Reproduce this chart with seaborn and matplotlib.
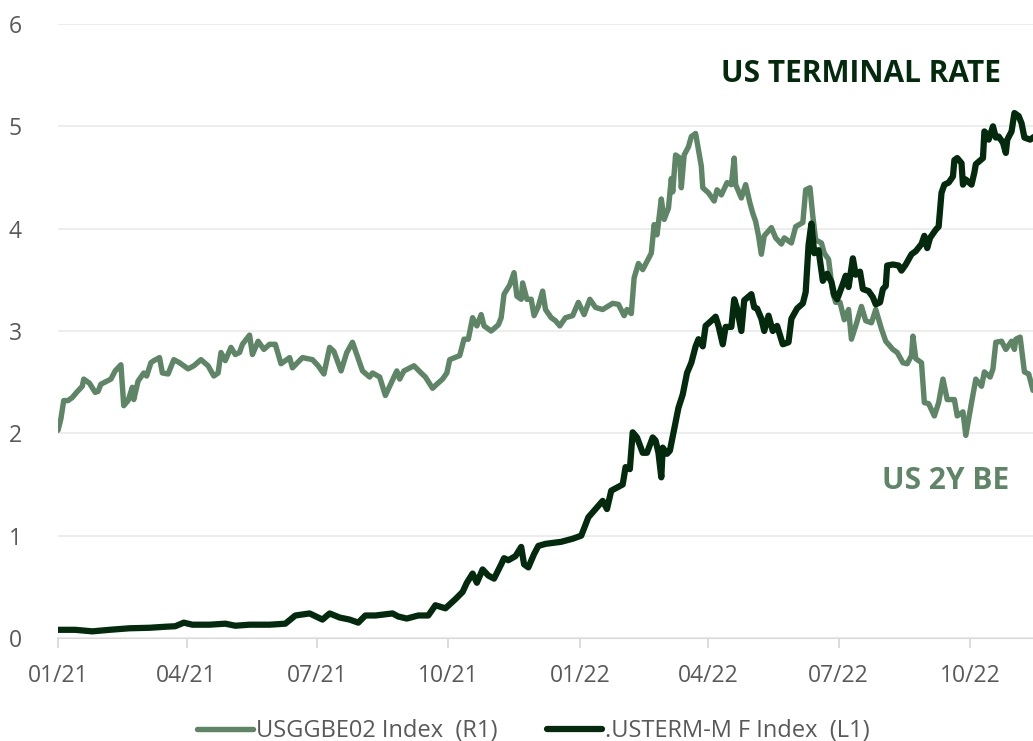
import matplotlib
matplotlib.use("Agg")
import matplotlib.pyplot as plt
import matplotlib.dates as mdates
import seaborn as sns
import pandas as pd

# ---------------- data ----------------
be_dates = [
    "2021-01-01", "2021-01-03", "2021-01-05", "2021-01-08", "2021-01-11", "2021-01-14", "2021-01-18",
    "2021-01-19", "2021-01-23", "2021-01-27", "2021-01-29", "2021-01-31", "2021-02-07", "2021-02-10",
    "2021-02-14", "2021-02-16", "2021-02-19", "2021-02-22", "2021-02-23", "2021-02-26", "2021-03-02",
    "2021-03-04", "2021-03-07", "2021-03-09", "2021-03-13", "2021-03-15", "2021-03-19", "2021-03-23",
    "2021-03-27", "2021-04-02", "2021-04-06", "2021-04-11", "2021-04-16", "2021-04-20", "2021-04-23",
    "2021-04-25", "2021-04-28", "2021-05-02", "2021-05-05", "2021-05-08", "2021-05-10", "2021-05-15",
    "2021-05-17", "2021-05-21", "2021-05-25", "2021-05-29", "2021-06-02", "2021-06-06", "2021-06-12",
    "2021-06-14", "2021-06-21", "2021-06-28", "2021-07-02", "2021-07-06", "2021-07-10", "2021-07-13",
    "2021-07-18", "2021-07-22", "2021-07-26", "2021-08-02", "2021-08-07", "2021-08-09", "2021-08-14",
    "2021-08-18", "2021-08-20", "2021-08-26", "2021-08-28", "2021-08-31", "2021-09-07", "2021-09-12",
    "2021-09-15", "2021-09-20", "2021-09-23", "2021-09-27", "2021-09-30", "2021-10-02", "2021-10-09",
    "2021-10-12", "2021-10-15", "2021-10-18", "2021-10-21", "2021-10-24", "2021-10-26", "2021-10-31",
    "2021-11-05", "2021-11-07", "2021-11-09", "2021-11-13", "2021-11-16", "2021-11-18", "2021-11-21",
    "2021-11-22", "2021-11-25", "2021-11-28", "2021-11-30", "2021-12-03", "2021-12-06", "2021-12-08",
    "2021-12-12", "2021-12-15", "2021-12-18", "2021-12-22", "2021-12-27", "2021-12-31", "2022-01-04",
    "2022-01-08", "2022-01-12", "2022-01-17", "2022-01-24", "2022-01-28", "2022-02-01", "2022-02-03",
    "2022-02-06", "2022-02-08", "2022-02-11", "2022-02-14", "2022-02-20", "2022-02-22", "2022-02-24",
    "2022-02-27", "2022-03-01", "2022-03-04", "2022-03-06", "2022-03-07", "2022-03-09", "2022-03-12",
    "2022-03-13", "2022-03-15", "2022-03-18", "2022-03-20", "2022-03-23", "2022-03-27", "2022-03-28",
    "2022-04-01", "2022-04-05", "2022-04-07", "2022-04-10", "2022-04-14", "2022-04-17", "2022-04-19",
    "2022-04-20", "2022-04-24", "2022-04-27", "2022-04-30", "2022-05-02", "2022-05-04", "2022-05-06",
    "2022-05-08", "2022-05-10", "2022-05-15", "2022-05-18", "2022-05-22", "2022-05-24", "2022-05-29",
    "2022-06-01", "2022-06-06", "2022-06-08", "2022-06-11", "2022-06-13", "2022-06-15", "2022-06-19",
    "2022-06-21", "2022-06-24", "2022-06-27", "2022-06-29", "2022-07-02", "2022-07-05", "2022-07-08",
    "2022-07-10", "2022-07-13", "2022-07-17", "2022-07-20", "2022-07-24", "2022-07-27", "2022-07-31",
    "2022-08-03", "2022-08-08", "2022-08-11", "2022-08-15", "2022-08-18", "2022-08-21", "2022-08-22",
    "2022-08-24", "2022-08-28", "2022-08-30", "2022-09-02", "2022-09-06", "2022-09-09", "2022-09-12",
    "2022-09-15", "2022-09-20", "2022-09-22", "2022-09-26", "2022-09-28", "2022-10-02", "2022-10-05",
    "2022-10-09", "2022-10-11", "2022-10-15", "2022-10-17", "2022-10-19", "2022-10-23", "2022-10-26",
    "2022-10-30", "2022-11-01", "2022-11-02", "2022-11-05", "2022-11-08", "2022-11-11", "2022-11-14",
]
be_values = [
    2.03, 2.14, 2.32, 2.32, 2.35, 2.40, 2.46,
    2.53, 2.49, 2.40, 2.41, 2.48, 2.53, 2.61,
    2.67, 2.27, 2.32, 2.45, 2.33, 2.51, 2.59,
    2.56, 2.69, 2.71, 2.74, 2.59, 2.58, 2.72,
    2.69, 2.63, 2.66, 2.72, 2.66, 2.56, 2.59,
    2.79, 2.71, 2.84, 2.77, 2.79, 2.87, 2.96,
    2.77, 2.90, 2.82, 2.87, 2.87, 2.68, 2.74,
    2.64, 2.74, 2.72, 2.66, 2.58, 2.84, 2.80,
    2.61, 2.79, 2.89, 2.61, 2.55, 2.59, 2.55,
    2.37, 2.43, 2.61, 2.53, 2.61, 2.66, 2.59,
    2.55, 2.44, 2.48, 2.53, 2.59, 2.72, 2.76,
    2.92, 2.92, 3.13, 3.05, 3.16, 3.05, 3.00,
    3.06, 3.13, 3.36, 3.45, 3.57, 3.34, 3.31,
    3.47, 3.31, 3.31, 3.15, 3.24, 3.39, 3.21,
    3.13, 3.10, 3.05, 3.13, 3.15, 3.28, 3.16,
    3.31, 3.23, 3.21, 3.27, 3.26, 3.15, 3.21,
    3.17, 3.52, 3.66, 3.60, 3.76, 4.04, 3.94,
    4.29, 4.09, 4.20, 4.49, 4.36, 4.72, 4.69,
    4.40, 4.72, 4.80, 4.90, 4.93, 4.61, 4.40,
    4.35, 4.27, 4.38, 4.33, 4.45, 4.43, 4.69,
    4.43, 4.30, 4.43, 4.25, 4.15, 4.07, 3.93,
    3.75, 3.93, 4.01, 3.91, 3.85, 3.91, 3.86,
    4.02, 4.06, 4.38, 4.40, 4.12, 3.89, 3.86,
    3.76, 3.70, 3.37, 3.28, 3.28, 3.11, 3.21,
    2.92, 3.05, 3.24, 3.10, 3.08, 3.21, 3.02,
    2.90, 2.82, 2.79, 2.69, 2.68, 2.76, 2.95,
    2.73, 2.69, 2.30, 2.29, 2.17, 2.30, 2.53,
    2.33, 2.33, 2.17, 2.21, 1.98, 2.30, 2.53,
    2.46, 2.60, 2.55, 2.63, 2.89, 2.90, 2.82,
    2.90, 2.82, 2.92, 2.94, 2.60, 2.58, 2.42,
]

term_dates = [
    "2021-01-01", "2021-01-13", "2021-01-25", "2021-02-06", "2021-02-20", "2021-03-06", "2021-03-17",
    "2021-03-24", "2021-03-30", "2021-04-05", "2021-04-17", "2021-04-28", "2021-05-05", "2021-05-15",
    "2021-05-29", "2021-06-09", "2021-06-16", "2021-06-26", "2021-07-05", "2021-07-10", "2021-07-17",
    "2021-07-24", "2021-07-30", "2021-08-04", "2021-08-11", "2021-08-23", "2021-08-27", "2021-09-02",
    "2021-09-10", "2021-09-17", "2021-09-22", "2021-09-29", "2021-10-06", "2021-10-11", "2021-10-14",
    "2021-10-18", "2021-10-21", "2021-10-25", "2021-10-29", "2021-11-02", "2021-11-07", "2021-11-09",
    "2021-11-12", "2021-11-17", "2021-11-21", "2021-11-23", "2021-11-26", "2021-11-30", "2021-12-03",
    "2021-12-08", "2021-12-19", "2021-12-27", "2022-01-02", "2022-01-07", "2022-01-12", "2022-01-17",
    "2022-01-20", "2022-01-23", "2022-01-27", "2022-01-31", "2022-02-02", "2022-02-05", "2022-02-07",
    "2022-02-10", "2022-02-14", "2022-02-17", "2022-02-21", "2022-02-23", "2022-02-25", "2022-02-27",
    "2022-02-28", "2022-03-03", "2022-03-05", "2022-03-08", "2022-03-11", "2022-03-14", "2022-03-17",
    "2022-03-20", "2022-03-23", "2022-03-25", "2022-03-28", "2022-03-30", "2022-04-03", "2022-04-06",
    "2022-04-08", "2022-04-11", "2022-04-13", "2022-04-17", "2022-04-19", "2022-04-21", "2022-04-24",
    "2022-04-26", "2022-05-01", "2022-05-03", "2022-05-05", "2022-05-08", "2022-05-10", "2022-05-13",
    "2022-05-16", "2022-05-19", "2022-05-23", "2022-05-27", "2022-05-29", "2022-06-02", "2022-06-06",
    "2022-06-08", "2022-06-10", "2022-06-12", "2022-06-14", "2022-06-17", "2022-06-20", "2022-06-23",
    "2022-06-26", "2022-06-28", "2022-06-30", "2022-07-04", "2022-07-06", "2022-07-08", "2022-07-11",
    "2022-07-13", "2022-07-16", "2022-07-18", "2022-07-22", "2022-07-25", "2022-07-27", "2022-07-30",
    "2022-08-01", "2022-08-03", "2022-08-04", "2022-08-08", "2022-08-12", "2022-08-14", "2022-08-17",
    "2022-08-21", "2022-08-24", "2022-08-28", "2022-08-30", "2022-09-01", "2022-09-03", "2022-09-07",
    "2022-09-09", "2022-09-11", "2022-09-13", "2022-09-16", "2022-09-19", "2022-09-20", "2022-09-22",
    "2022-09-25", "2022-09-26", "2022-09-28", "2022-10-02", "2022-10-04", "2022-10-05", "2022-10-10",
    "2022-10-11", "2022-10-13", "2022-10-14", "2022-10-17", "2022-10-19", "2022-10-21", "2022-10-24",
    "2022-10-26", "2022-10-27", "2022-10-30", "2022-11-01", "2022-11-04", "2022-11-06", "2022-11-08",
    "2022-11-12", "2022-11-15",
]
term_values = [
    0.08, 0.08, 0.065, 0.08, 0.095, 0.10, 0.11,
    0.115, 0.15, 0.13, 0.13, 0.14, 0.12, 0.13,
    0.13, 0.14, 0.22, 0.24, 0.18, 0.24, 0.20,
    0.18, 0.15, 0.22, 0.22, 0.24, 0.21, 0.19,
    0.22, 0.22, 0.32, 0.29, 0.38, 0.45, 0.54,
    0.63, 0.54, 0.67, 0.61, 0.58, 0.72, 0.78,
    0.76, 0.80, 0.89, 0.72, 0.69, 0.82, 0.90,
    0.92, 0.94, 0.97, 1.00, 1.18, 1.26, 1.34,
    1.26, 1.44, 1.47, 1.50, 1.67, 1.65, 2.01,
    1.96, 1.81, 1.81, 1.96, 1.93, 1.81, 1.57,
    1.86, 1.80, 1.83, 2.04, 2.25, 2.38, 2.59,
    2.69, 2.85, 2.92, 2.85, 3.05, 3.10, 3.14,
    3.05, 2.87, 3.04, 3.04, 3.31, 3.22, 3.00,
    3.30, 3.36, 3.23, 3.22, 3.12, 3.00, 3.15,
    3.00, 3.05, 2.87, 2.89, 3.12, 3.22, 3.27,
    3.38, 3.84, 4.05, 3.76, 3.79, 3.49, 3.56,
    3.48, 3.35, 3.31, 3.46, 3.54, 3.43, 3.71,
    3.55, 3.58, 3.41, 3.39, 3.33, 3.26, 3.28,
    3.41, 3.44, 3.64, 3.65, 3.64, 3.59, 3.65,
    3.75, 3.78, 3.85, 3.93, 3.81, 3.91, 3.99,
    4.02, 4.35, 4.43, 4.45, 4.51, 4.67, 4.69,
    4.64, 4.43, 4.48, 4.43, 4.55, 4.63, 4.69,
    4.95, 4.92, 4.87, 5.00, 4.89, 4.90, 4.84,
    4.74, 4.87, 4.95, 5.13, 5.10, 5.03, 4.89,
    4.87, 4.90,
]

be_label = "USGGBE02 Index  (R1)"
term_label = ".USTERM-M F Index  (L1)"
yticks = [0, 1, 2, 3, 4, 5, 6]

GREEN = "#5e8566"
DARK = "#032a0c"

# ---------------- figure ----------------
sns.set_theme(style="white")
plt.rcParams["font.family"] = ["Open Sans", "DejaVu Sans"]

W, H = 1033, 741
fig = plt.figure(figsize=(W / 100, H / 100), dpi=100)
ax = fig.add_axes([58 / W, 103 / H, 975 / W, 614 / H])

df_be = pd.DataFrame({"date": pd.to_datetime(be_dates), "value": be_values})
df_term = pd.DataFrame({"date": pd.to_datetime(term_dates), "value": term_values})

sns.lineplot(data=df_be, x="date", y="value", ax=ax, color=GREEN, linewidth=3.9,
             estimator=None, label=be_label, solid_capstyle="round", solid_joinstyle="round")
sns.lineplot(data=df_term, x="date", y="value", ax=ax, color=DARK, linewidth=4.5,
             estimator=None, label=term_label, solid_capstyle="round", solid_joinstyle="round")

ax.set_xlim(pd.Timestamp("2021-01-01"), pd.Timestamp("2022-11-14"))
ax.set_ylim(0, 6)
ax.set_yticks(yticks)
ax.set_xlabel("")
ax.set_ylabel("")

ax.xaxis.set_major_locator(mdates.MonthLocator(bymonth=[1, 4, 7, 10]))
ax.xaxis.set_major_formatter(mdates.DateFormatter("%m/%y"))

ax.grid(axis="y", color="#ececec", linewidth=1.3)
ax.grid(axis="x", visible=False)
ax.set_axisbelow(True)
for s in ["left", "right", "top"]:
    ax.spines[s].set_visible(False)
ax.spines["bottom"].set_color("#d9d9d9")
ax.spines["bottom"].set_linewidth(1.5)
ax.spines["bottom"].set_zorder(0.5)

ax.tick_params(axis="x", direction="out", length=7, width=1.3, color="#d9d9d9",
               labelsize=16.5, labelcolor="#595959", pad=12, bottom=True)
ax.tick_params(axis="y", length=0, labelsize=16.5, labelcolor="#595959", pad=26)

handles, labels = ax.get_legend_handles_labels()
ax.get_legend().remove()
leg = fig.legend(handles, labels, loc="center", bbox_to_anchor=(533.5 / W, 1 - 731 / H),
                 ncol=2, frameon=False, fontsize=17, handlelength=2.35,
                 handletextpad=0.12, columnspacing=2.1, borderaxespad=0)
for t in leg.get_texts():
    t.set_color("#595959")

fig.text(861 / W, 1 - 74 / H, "US TERMINAL RATE", ha="center", va="center",
         fontsize=21.5, fontweight="bold", color=DARK)
fig.text(946 / W, 1 - 481 / H, "US 2Y BE", ha="center", va="center",
         fontsize=21.5, fontweight="bold", color=GREEN)

fig.savefig("out.png", dpi=100)
